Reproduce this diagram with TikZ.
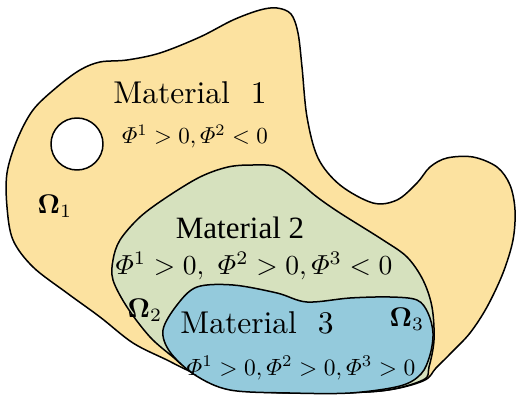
\documentclass[tikz,border=0pt]{standalone}
\usepackage{amsmath}
\usepackage[no-math]{fontspec}
\newfontfamily\timesfont{Liberation Serif}
\definecolor{matyellow}{RGB}{252,226,160}
\definecolor{matgreen}{RGB}{214,225,190}
\definecolor{matblue}{RGB}{148,202,220}
\tikzset{
  region/.style={draw=black, line width=1.5pt, line join=round},
  lbl/.style={inner sep=0pt, anchor=base},
}
\begin{document}
\begin{tikzpicture}[x=1pt,y=-1pt]
\useasboundingbox (0,0) rectangle (517,401);
% Omega 1 (yellow)
\draw[region, fill=matyellow] plot[smooth cycle, tension=0.55] coordinates {
 (277,8) (291,14) (298,33) (302,67) (307,117) (318,158) (340,185) (373,203)
 (397,200) (417,183) (430,167) (447,158) (473,157) (497,167) (510,185)
 (515,210) (513,240) (503,273) (487,307) (470,333) (452,352) (436,368)
 (423,381) (380,391) (300,393) (230,389) (187,370) (167,360) (133,343)
 (100,317) (67,293) (33,267) (13,240) (7,207) (7,173) (17,140) (33,110)
 (57,87) (80,70) (100,62) (127,60) (160,53) (200,37) (233,20) (260,10)};
% hole
\draw[region, fill=white] (77,144) circle (26);
% Omega 2 (green)
\draw[region, fill=matgreen] plot[smooth cycle, tension=0.55] coordinates {
 (253,165) (277,167) (300,183) (317,197) (340,213) (383,240) (407,257)
 (423,280) (432,307) (434,340) (429,367) (423,380) (380,391) (300,393)
 (225,388) (187,368) (173,357) (150,337) (127,307) (113,280) (113,260)
 (120,240) (140,217) (167,197) (200,177) (228,167)};
% Omega 3 (blue)
\draw[region, fill=matblue] plot[smooth cycle, tension=0.55] coordinates {
 (197,287) (233,285) (277,293) (307,302) (350,298) (390,297) (417,300)
 (428,313) (433,333) (430,355) (421,374) (400,386) (350,393) (290,393)
 (230,390) (195,375) (170,352) (163,330) (177,305)};
% labels
\node[lbl, scale=3.15] (m1) at (190,104) {Material~~1};
\node[lbl, scale=2.3] (p1) at (195,144) {$\varPhi^1>0,\varPhi^2<0$};
\node[lbl, scale=2.7] (o1) at (55,213) {$\mathbf{\Omega}_1$};
\node[lbl, scale=3.1] (m2) at (240,238) {\timesfont Material 2};
\node[lbl, scale=2.75] (p2) at (254,274) {$\varPhi^1>0,\ \varPhi^2>0,\varPhi^3<0$};
\node[lbl, scale=2.7] (o2) at (145,317) {$\mathbf{\Omega}_2$};
\node[lbl, scale=3.15] (m3) at (257,333) {Material~~3};
\node[lbl, scale=2.7] (o3) at (407,326) {$\mathbf{\Omega}_3$};
\node[lbl, scale=2.35] (p3) at (301,375) {$\varPhi^1>0,\varPhi^2>0,\varPhi^3>0$};
\end{tikzpicture}
\end{document}
